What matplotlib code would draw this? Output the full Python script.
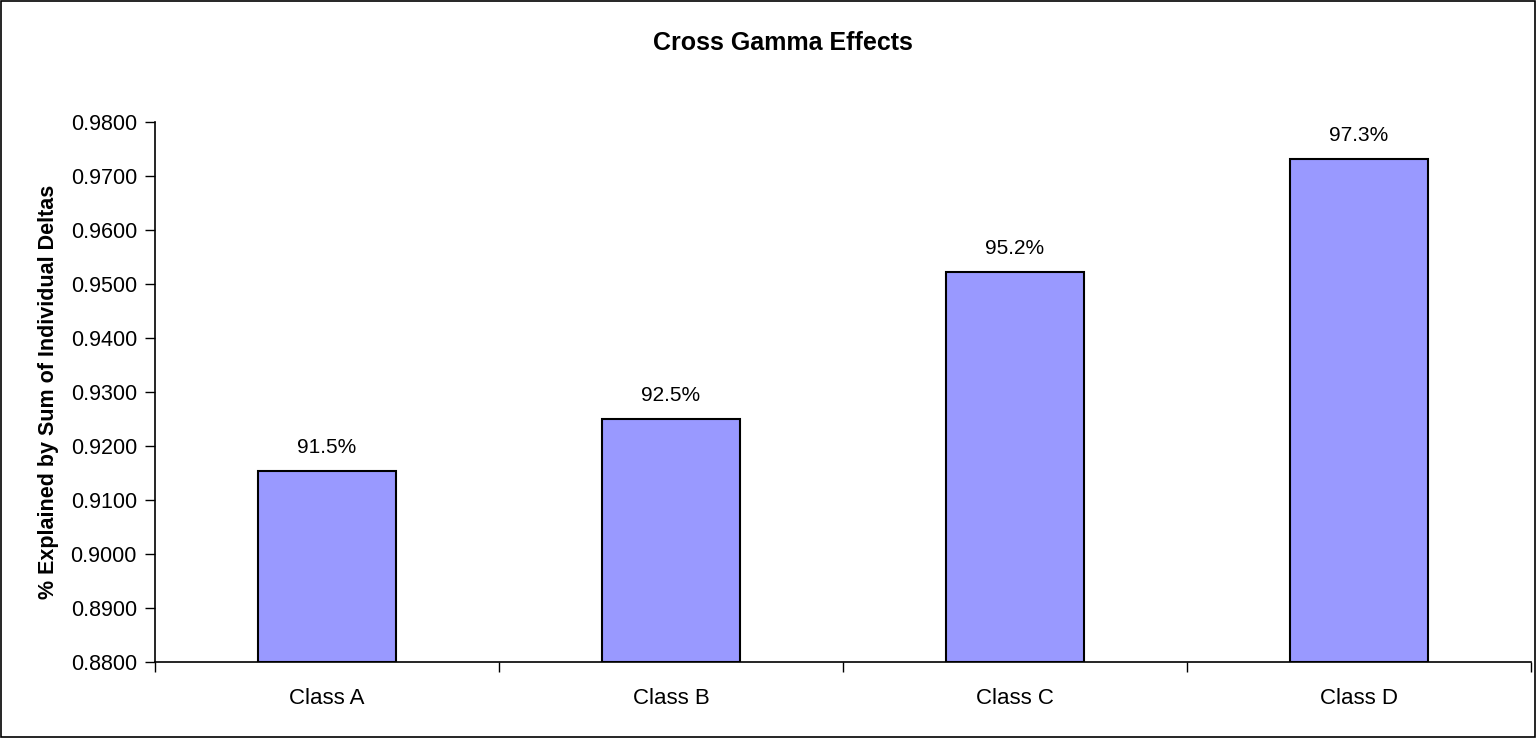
import matplotlib.pyplot as plt
from matplotlib.patches import Rectangle
from matplotlib.ticker import FormatStrFormatter

# ============================================================
# DATA
# ============================================================

categories = ["Class A", "Class B", "Class C", "Class D"]

explained = [0.9153, 0.9249, 0.9522, 0.9730]

bar_labels = ["91.5%", "92.5%", "95.2%", "97.3%"]

y_ticks = [0.88, 0.89, 0.90, 0.91, 0.92, 0.93, 0.94, 0.95, 0.96, 0.97, 0.98]

# ============================================================
# FIGURE
# ============================================================

plt.rcParams["font.family"] = ["Liberation Sans", "DejaVu Sans"]

fig = plt.figure(figsize=(15.36, 7.38), dpi=100)

ax = fig.add_axes([0.1009, 0.1034, 0.8958, 0.7317])

x = list(range(len(categories)))

ax.bar(
    x,
    [v - 0.88 for v in explained],
    bottom=0.88,
    width=0.4,
    color="#9999FF",
    edgecolor="black",
    linewidth=1.5,
    zorder=3
)

# value labels above the bars
for xi, v, lab in zip(x, explained, bar_labels):
    ax.annotate(
        lab,
        (xi, v),
        xytext=(0, 17),
        textcoords="offset points",
        ha="center",
        va="center",
        fontsize=15
    )

ax.set_xlim(-0.5, len(categories) - 0.5)
ax.set_ylim(0.88, 0.98)

ax.set_yticks(y_ticks)
ax.yaxis.set_major_formatter(FormatStrFormatter("%.4f"))

# category labels centred, ticks on the boundaries
ax.set_xticks([i - 0.5 for i in range(len(categories) + 1)])
ax.set_xticklabels([])
ax.set_xticks(x, minor=True)
ax.set_xticklabels(categories, minor=True)
ax.tick_params(axis="x", which="minor", length=0, pad=19, labelsize=16)
ax.tick_params(axis="x", which="major", length=7, width=1, direction="out")
ax.tick_params(axis="y", length=7, width=1, direction="out", labelsize=15.5, pad=6)

for side in ["top", "right"]:
    ax.spines[side].set_visible(False)
for side in ["left", "bottom"]:
    ax.spines[side].set_linewidth(1.2)

ax.set_ylabel(
    "% Explained by Sum of Individual Deltas",
    fontsize=15.5,
    fontweight="bold",
    labelpad=8
)

fig.text(
    0.51,
    0.942,
    "Cross Gamma Effects",
    ha="center",
    va="center",
    fontsize=18,
    fontweight="bold"
)

# outer frame around the whole chart
fig.patches.append(
    Rectangle(
        (0.0005, 0.001),
        0.999,
        0.998,
        transform=fig.transFigure,
        fill=False,
        edgecolor="black",
        linewidth=1.2
    )
)

fig.savefig("out.png", dpi=100)
